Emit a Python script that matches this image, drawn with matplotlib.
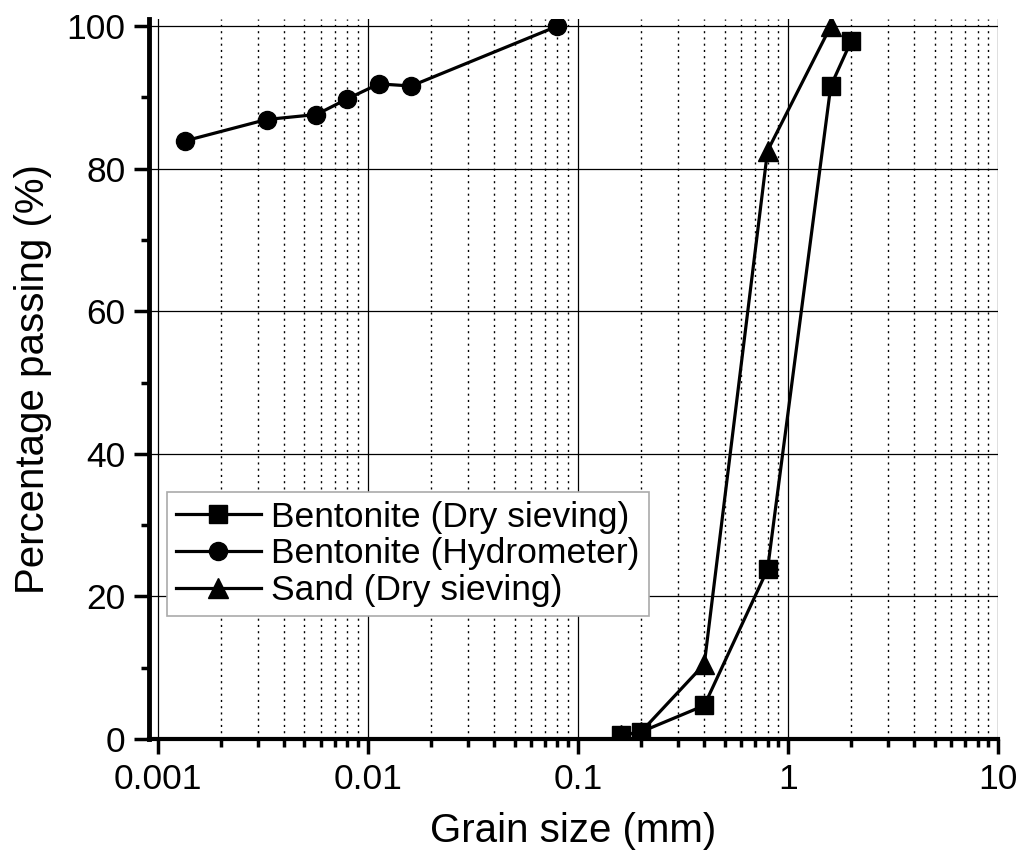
import numpy as np
import matplotlib
matplotlib.use("Agg")
import matplotlib.pyplot as plt
from matplotlib.ticker import LogLocator, FuncFormatter, MultipleLocator, NullFormatter

plt.rcParams['font.family'] = ['Liberation Sans', 'DejaVu Sans']

# grain size (mm) and percentage passing (%)
bent_dry_x = [0.16, 0.2, 0.4, 0.8, 1.6, 2.0]
bent_dry_y = [0.5, 1.0, 4.7, 23.8, 91.6, 97.9]

bent_hyd_x = [0.00135, 0.0033, 0.0057, 0.0080, 0.0113, 0.0161, 0.08]
bent_hyd_y = [83.9, 86.9, 87.6, 89.8, 91.9, 91.6, 100.0]

sand_x = [0.16, 0.2, 0.4, 0.8, 1.6]
sand_y = [0.5, 1.0, 10.5, 82.5, 100.0]

fig = plt.figure(figsize=(10.22, 8.67), dpi=100)
ax = fig.add_axes([149/1022, 1 - 739/867, (998-149)/1022, (739-19)/867])

ax.plot(sand_x, sand_y, color='black', lw=2.3, marker='^', ms=14, label='Sand (Dry sieving)', zorder=3)
ax.plot(bent_dry_x, bent_dry_y, color='black', lw=2.3, marker='s', ms=12.5, label='Bentonite (Dry sieving)', zorder=4)
ax.plot(bent_hyd_x, bent_hyd_y, color='black', lw=2.3, marker='o', ms=13, label='Bentonite (Hydrometer)', zorder=4)

ax.set_xscale('log')
ax.set_xlim(0.00091, 10)
ax.set_ylim(0, 101)

ax.xaxis.set_major_locator(LogLocator(base=10, numticks=10))
ax.xaxis.set_minor_locator(LogLocator(base=10, subs=np.arange(2, 10), numticks=20))
ax.xaxis.set_major_formatter(FuncFormatter(lambda v, p: '%g' % v))
ax.xaxis.set_minor_formatter(NullFormatter())
ax.yaxis.set_major_locator(MultipleLocator(20))
ax.yaxis.set_minor_locator(MultipleLocator(10))

ax.grid(which='major', color='black', lw=0.9, ls='-')
ax.grid(which='minor', axis='x', color='black', lw=1.0, ls=(0, (1.5, 3)))
ax.set_axisbelow(True)

for s in ['top', 'right']:
    ax.spines[s].set_visible(False)
ax.spines['left'].set_linewidth(3.5)
ax.spines['bottom'].set_linewidth(3)

ax.tick_params(which='major', direction='out', length=11, width=2.5, labelsize=25.5, pad=6)
ax.tick_params(which='minor', direction='out', length=6, width=2.5)

ax.set_xlabel('Grain size (mm)', fontsize=29, labelpad=12)
ax.set_ylabel('Percentage passing (%)', fontsize=29, labelpad=10)

h, l = ax.get_legend_handles_labels()
order = [1, 2, 0]
leg = ax.legend([h[i] for i in order], [l[i] for i in order], loc='upper left',
                bbox_to_anchor=(0.021, 0.343), fontsize=25.5, fancybox=False,
                framealpha=1, edgecolor='#aaaaaa', handlelength=2.4,
                handletextpad=0.3, borderpad=0.25, labelspacing=0.1, borderaxespad=0)
leg.get_frame().set_linewidth(1.2)

fig.savefig('out.png', dpi=100)
